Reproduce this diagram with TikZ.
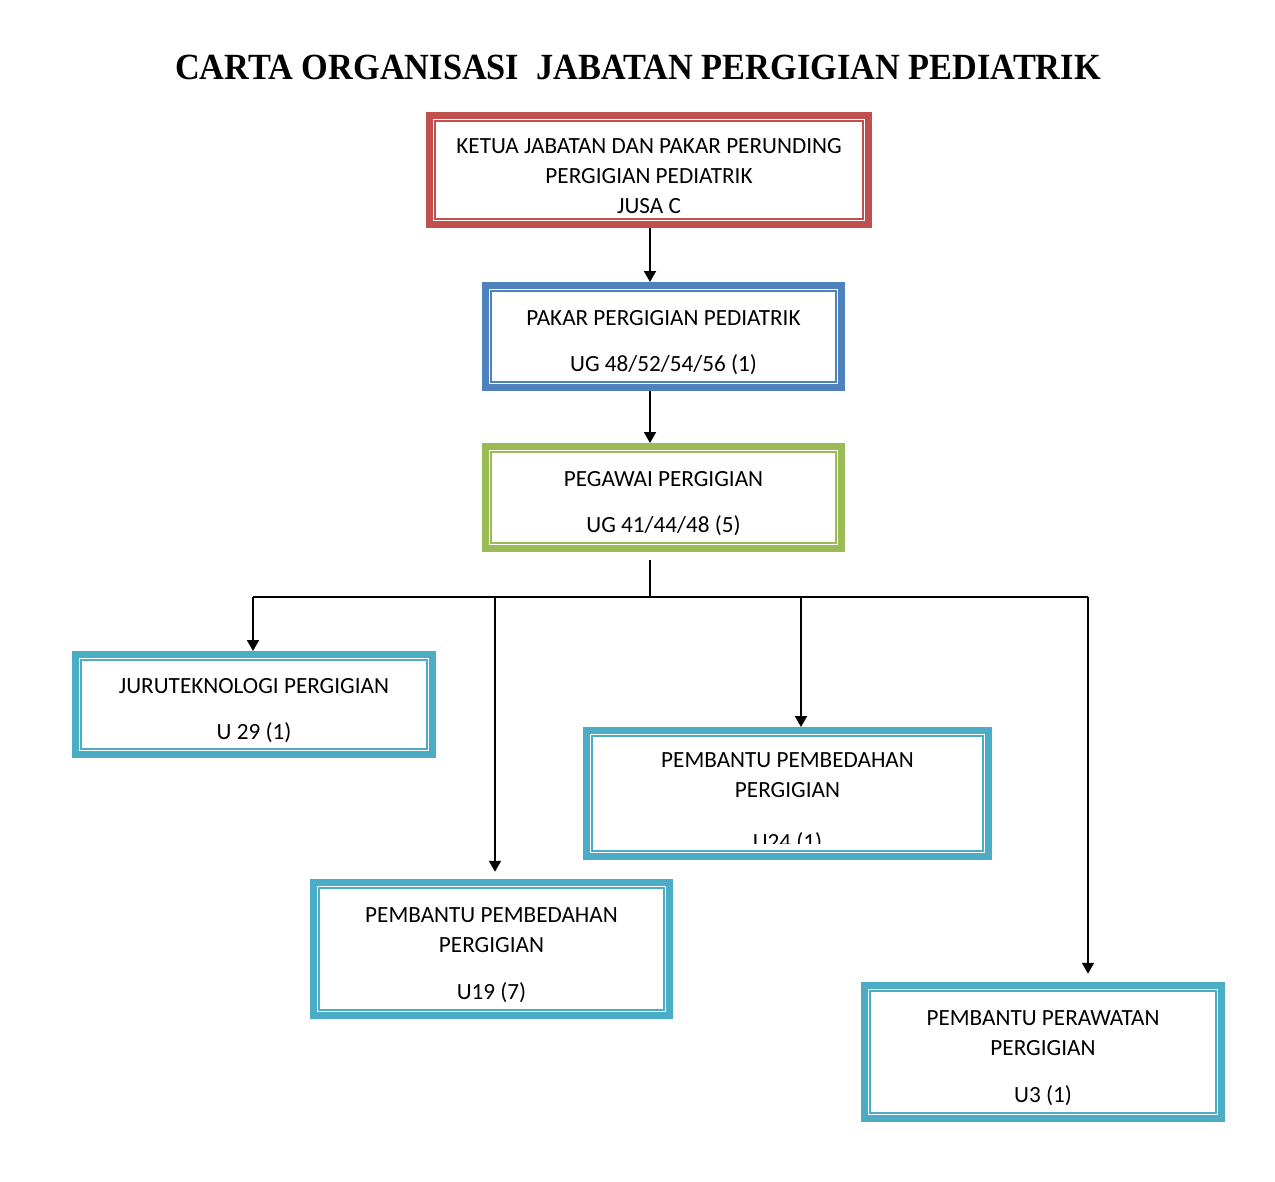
\documentclass[tikz,border=0pt]{standalone}
\usepackage{fontspec}
\setmainfont{Carlito}
\newfontfamily\titlefont{Liberation Serif}
\usepackage{trimclip}
\usepackage{tikz}
\usetikzlibrary{arrows.meta}

\definecolor{kred}{HTML}{C0504D}
\definecolor{kblue}{HTML}{4F81BD}
\definecolor{kgreen}{HTML}{9BBB59}
\definecolor{kteal}{HTML}{4BACC6}

\newcommand\topstrut{\rule{0pt}{15.5pt}}

\begin{document}
\begin{tikzpicture}[
	x=0.02cm, y=-0.02cm,
	orgbox/.style={draw=#1, line width=0.13cm, rectangle, inner sep=0, align=center,
		font=\fontsize{13.2}{17}\selectfont,
		path picture={\draw[#1, line width=0.03cm]
			([shift={(0.11cm,-0.11cm)}]path picture bounding box.north west) rectangle
			([shift={(-0.11cm,0.11cm)}]path picture bounding box.south east);}},
	arr/.style={-{Triangle[length=0.22cm, width=0.24cm]}, line width=1.1pt}
]
\useasboundingbox (0,0) rectangle (1275,1182);

\node[anchor=base] (title) at (638,80) {\titlefont\bfseries\fontsize{21}{25}\selectfont
	\scalebox{0.93}[1]{CARTA ORGANISASI\ \ JABATAN PERGIGIAN PEDIATRIK}};

\node[orgbox=kred, minimum width=8.79cm, minimum height=2.19cm] (ketua) at (649,170)
	{\topstrut KETUA JABATAN DAN PAKAR PERUNDING\\PERGIGIAN PEDIATRIK\\JUSA C};
\node[orgbox=kblue, minimum width=7.13cm, minimum height=2.05cm] (pakar) at (663.5,336.5)
	{\topstrut PAKAR PERGIGIAN PEDIATRIK\\[9.6pt]UG 48/52/54/56 (1)};
\node[orgbox=kgreen, minimum width=7.13cm, minimum height=2.05cm] (pegawai) at (663.5,497.5)
	{\topstrut PEGAWAI PERGIGIAN\\[9.6pt]UG 41/44/48 (5)};

\node[orgbox=kteal, minimum width=7.15cm, minimum height=2.01cm] (jurutek) at (254,704.5)
	{\topstrut JURUTEKNOLOGI PERGIGIAN\\[9.6pt]U 29 (1)};
\node[orgbox=kteal, minimum width=8.05cm, minimum height=2.53cm] (bedahA) at (787.5,793.5)
	{\topstrut PEMBANTU PEMBEDAHAN\\PERGIGIAN\\[9.6pt]\clipbox{0pt 4.9pt 0pt 0pt}{U24 (1)}\vphantom{(}};
\node[orgbox=kteal, minimum width=7.13cm, minimum height=2.67cm] (bedahB) at (491.5,949)
	{\topstrut PEMBANTU PEMBEDAHAN\\PERGIGIAN\\[9.6pt]U19 (7)};
\node[orgbox=kteal, minimum width=7.15cm, minimum height=2.67cm] (rawat) at (1043,1052)
	{\topstrut PEMBANTU PERAWATAN\\PERGIGIAN\\[9.6pt]U3 (1)};

% bus line
\coordinate (hub) at (650,597);
\coordinate (busL) at (253,597);
\coordinate (tapB) at (495,597);
\coordinate (tapA) at (801,597);
\coordinate (busR) at (1088,597);

\draw[arr] (ketua.south -| hub) -- (pakar.north -| hub);
\draw[arr] (pakar.south -| hub) -- (pegawai.north -| hub);

\draw[line width=1.1pt] ([yshift=-0.165cm]pegawai.south -| hub) -- (hub);
\draw[line width=1.5pt] (busL) -- (busR);

\draw[arr] (busL) -- (busL |- jurutek.north);
\draw[arr] (tapB) -- ([yshift=0.145cm]tapB |- bedahB.north);
\draw[arr] (tapA) -- (tapA |- bedahA.north);
\draw[arr] (busR) -- ([yshift=0.165cm]busR |- rawat.north);
\end{tikzpicture}
\end{document}
